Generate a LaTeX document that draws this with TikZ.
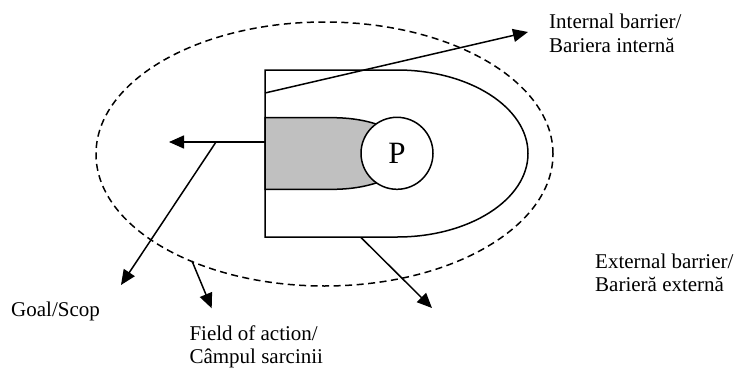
\documentclass[tikz,border=0pt]{standalone}
\usepackage{fontspec}
\setmainfont{Liberation Serif}
\usetikzlibrary{arrows.meta,shapes.geometric}
\definecolor{shade}{RGB}{192,192,192}
\tikzset{
  outline/.style={line width=1.5pt},
  pointer/.style={line width=1.5pt,-{Triangle[length=15pt,width=13pt]}},
  label/.style={anchor=base west,inner sep=0pt,font=\fontsize{21}{24}\selectfont},
}
\begin{document}
\begin{tikzpicture}[x=1pt,y=-1pt]
\useasboundingbox (0,0) rectangle (736,367);

% field of action: dashed outer ellipse
\node[ellipse,draw,outline,dash pattern=on 7pt off 4.5pt,
      minimum width=457pt,minimum height=264pt,inner sep=0pt] (field) at (324.5,154) {};

% internal barrier: open box with rounded right end
\draw[outline] (397,70) -- (265,70) -- (265,237) -- (397,237)
  arc[start angle=90,end angle=-90,x radius=131,y radius=83.5];

% goal channel (grey)
\draw[outline,fill=shade] (265,117.7) -- (333,117.7)
  arc[start angle=-90,end angle=90,x radius=76,y radius=35.8]
  -- (265,189.3) -- cycle;

% the person
\node[circle,draw,outline,fill=white,minimum size=72pt,inner sep=0pt,
      font=\fontsize{31}{31}\selectfont] (P) at (397,153.3) {P};

% connector ends
\coordinate (inS) at (265,93);
\coordinate (inE) at (528,32);
\coordinate (goS) at (265,142);
\coordinate (goE) at (169,142);
\coordinate (brS) at (216,142);
\coordinate (brE) at (121,285);
\coordinate (fiS) at (192,261);
\coordinate (fiE) at (211.7,308.3);
\coordinate (exS) at (361,237.5);
\coordinate (exE) at (432,308);

\draw[pointer] (inS) -- (inE);
\draw[pointer] (goS) -- (goE);
\draw[pointer] (brS) -- (brE);
\draw[pointer] (fiS) -- (fiE);
\draw[pointer] (exS) -- (exE);

% labels
\node[label] (inA) at (549,28) {Internal barrier/};
\node[label] (inB) at (549,52.7) {Bariera internă};
\node[label] (exA) at (595,268.3) {External barrier/};
\node[label] (exB) at (595,291.7) {Barieră externă};
\node[label] (goal) at (11,316.7) {Goal/Scop};
\node[label] (fiA) at (189.3,340) {Field of action/};
\node[label] (fiB) at (189.3,363.3) {Câmpul sarcinii};
\end{tikzpicture}
\end{document}
